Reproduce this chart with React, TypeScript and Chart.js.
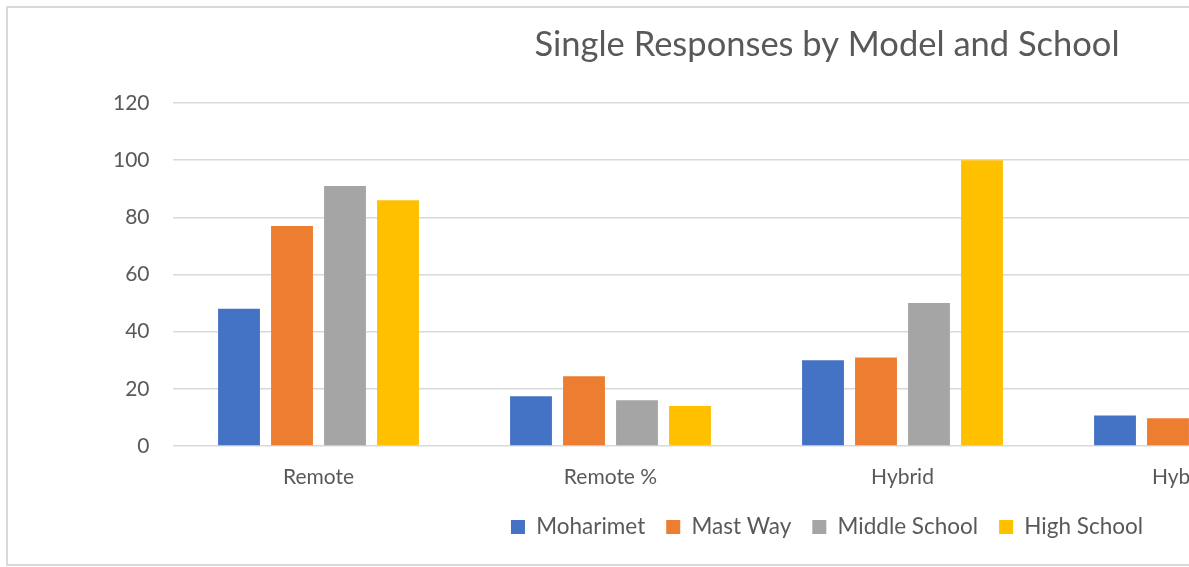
import React, { useEffect, useRef } from 'react';
import { Chart, registerables } from 'chart.js';

Chart.register(...registerables);

const titleText = 'Single Responses by Model and School';
const categories = ['Remote', 'Remote %', 'Hybrid', 'Hybrid %', ''];
const seriesNames = ['Moharimet', 'Mast Way', 'Middle School', 'High School'];
const moharimet = [48, 17.4, 30, 10.7, null];
const mastWay = [77, 24.4, 31, 9.7, null];
const middleSchool = [91, 16.0, 50, 8.8, null];
const highSchool = [86, 14.0, 100, 16.3, null];
const seriesColors = ['#4472C4', '#ED7D31', '#A5A5A5', '#FFC000'];
const yMin = 0;
const yMax = 120;
const yStep = 20;

const FONT = 'Lato, "Open Sans", sans-serif';
const TEXT = '#595959';
const GRID = '#d9d9d9';
const CW = 1638;
const CH = 556;

export default function App() {
  const ref = useRef<HTMLCanvasElement | null>(null);

  useEffect(() => {
    const canvas = ref.current;
    if (!canvas) return;
    const values = [moharimet, mastWay, middleSchool, highSchool];
    const chart = new Chart(canvas, {
      type: 'bar',
      data: {
        labels: categories,
        datasets: seriesNames.map((name, i) => ({
          label: name,
          data: values[i],
          backgroundColor: seriesColors[i],
          borderWidth: 0,
          categoryPercentage: 0.726,
          barPercentage: 0.79,
        })),
      },
      options: {
        responsive: false,
        animation: false,
        devicePixelRatio: window.devicePixelRatio || 1,
        layout: { padding: { left: 0, right: 0, top: 0, bottom: 15.75 } },
        plugins: {
          title: {
            display: true,
            text: titleText,
            color: TEXT,
            font: { family: FONT, size: 34.5, weight: 'normal', lineHeight: 1.2 },
            padding: { top: 15.7, bottom: 37.9 },
          },
          legend: {
            position: 'bottom',
            labels: {
              boxWidth: 14,
              boxHeight: 14,
              padding: 21,
              color: TEXT,
              font: { family: FONT, size: 22.5 },
            },
          },
          tooltip: { enabled: false },
        },
        scales: {
          x: {
            grid: { display: false, drawTicks: false },
            border: { display: false },
            ticks: { color: TEXT, font: { family: FONT, size: 21 }, padding: 18.4 },
            afterFit: (s: any) => {
              s.height = 48.75;
            },
          },
          y: {
            min: yMin,
            max: yMax,
            ticks: { stepSize: yStep, color: TEXT, font: { family: FONT, size: 21 }, padding: 23 },
            grid: { color: GRID, lineWidth: 1.4, drawTicks: false },
            border: { display: false },
            afterFit: (s: any) => {
              s.width = 164.5;
            },
          },
          spacer: {
            type: 'linear',
            position: 'right',
            display: true,
            min: yMin,
            max: yMax,
            ticks: { display: false },
            grid: { display: false, drawTicks: false },
            border: { display: false },
            afterFit: (s: any) => {
              s.width = 13.5;
            },
          },
        },
      },
    });
    return () => chart.destroy();
  }, []);

  return (
    <div style={{ position: 'fixed', left: 0, top: 0, width: 1189, height: 567, overflow: 'hidden', background: '#fff' }}>
      <div
        style={{
          position: 'absolute',
          left: 6,
          top: 6,
          width: CW,
          height: CH,
          border: `2px solid ${GRID}`,
          background: '#fff',
        }}
      >
        <canvas ref={ref} width={CW} height={CH} style={{ display: 'block', width: CW, height: CH }} />
      </div>
    </div>
  );
}
